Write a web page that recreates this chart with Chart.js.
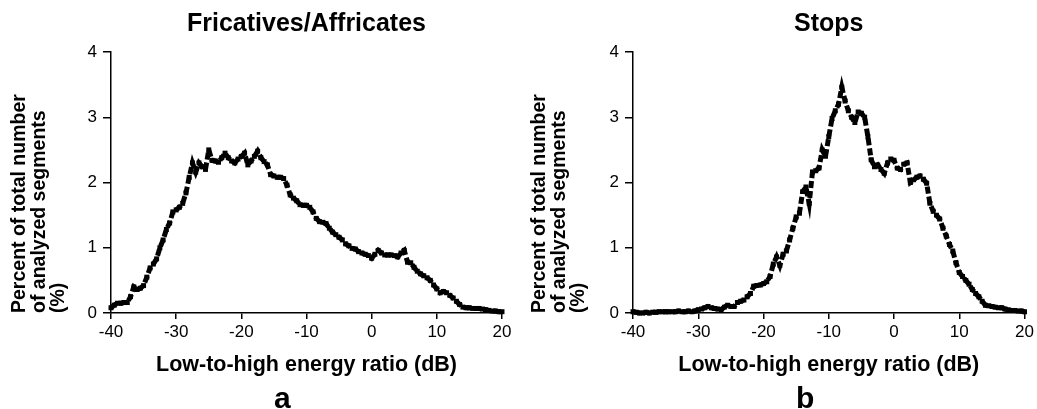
<!DOCTYPE html>
<html>
<head>
<meta charset="utf-8">
<script src="https://cdn.jsdelivr.net/npm/chart.js@4.4.1/dist/chart.umd.min.js"></script>
<style>
  html,body{margin:0;padding:0;background:#fff;}
  body{width:1037px;height:409px;position:relative;overflow:hidden;font-family:"Liberation Sans",Arial,sans-serif;}
  .panel{position:absolute;top:0;height:409px;}
  .letter{position:absolute;top:383px;font:bold 30px "Liberation Sans",Arial,sans-serif;color:#000;line-height:30px;}
</style>
</head>
<body>
<div class="panel" style="left:0;width:520px"><canvas id="cFric"></canvas></div>
<div class="panel" style="left:520px;width:517px"><canvas id="cStops"></canvas></div>
<div class="letter" id="lA" style="left:274px">a</div>
<div class="letter" id="lB" style="left:796px">b</div>
<script>
// bin centres, dB (0.5 dB steps from -40 to 20)
const BINS = Array.from({length:121},(_,i)=>-40+i*0.5);
const X_TICKS = [-40,-30,-20,-10,0,10,20];
const Y_TICKS = [0,1,2,3,4];

// percent of analyzed segments
const FRIC = [
  0.08,0.12,0.15,0.15,0.16,0.16,0.25,0.40,0.36,0.38,
  0.42,0.55,0.69,0.75,0.83,1.00,1.12,1.28,1.38,1.55,
  1.58,1.62,1.68,1.84,2.08,2.30,2.16,2.30,2.24,2.20,
  2.50,2.34,2.33,2.31,2.38,2.45,2.38,2.33,2.30,2.36,
  2.40,2.45,2.27,2.33,2.40,2.48,2.38,2.32,2.27,2.12,
  2.10,2.08,2.08,2.06,1.96,1.81,1.76,1.72,1.66,1.65,
  1.65,1.62,1.55,1.45,1.40,1.39,1.37,1.30,1.24,1.20,
  1.16,1.12,1.06,1.03,0.99,0.98,0.94,0.92,0.90,0.88,
  0.84,0.90,0.96,0.92,0.89,0.89,0.89,0.88,0.86,0.92,
  0.96,0.78,0.77,0.70,0.64,0.60,0.57,0.54,0.50,0.43,
  0.37,0.31,0.33,0.31,0.27,0.23,0.18,0.13,0.09,0.08,
  0.08,0.07,0.07,0.07,0.06,0.05,0.04,0.03,0.03,0.02,
  0.02
];
const STOPS = [
  0.02,0.01,0.00,0.00,0.01,0.00,0.01,0.01,0.02,0.02,
  0.02,0.02,0.02,0.02,0.03,0.02,0.02,0.03,0.02,0.03,
  0.05,0.06,0.08,0.10,0.08,0.07,0.06,0.05,0.09,0.12,
  0.10,0.10,0.16,0.18,0.20,0.25,0.30,0.41,0.42,0.43,
  0.45,0.48,0.56,0.75,0.86,0.73,0.90,0.95,1.12,1.30,
  1.47,1.53,1.86,1.93,1.68,2.16,2.18,2.22,2.50,2.40,
  2.70,2.98,3.10,3.20,3.46,3.25,3.10,3.00,2.92,3.08,
  3.06,3.00,2.70,2.35,2.24,2.27,2.20,2.14,2.30,2.36,
  2.34,2.22,2.20,2.28,2.30,2.00,2.04,2.08,2.10,2.05,
  1.99,1.68,1.56,1.50,1.44,1.30,1.18,1.05,0.95,0.77,
  0.62,0.56,0.50,0.44,0.36,0.30,0.25,0.18,0.12,0.11,
  0.10,0.09,0.08,0.08,0.06,0.05,0.04,0.04,0.03,0.03,
  0.02
];

const FONT = '"Liberation Sans", Arial, sans-serif';
const INK = '#000';

function makeChart(id, title, values, yAxisW, padRight){
  const cv = document.getElementById(id);
  cv.parentNode.style.height = '409px';
  return new Chart(cv, {
    type:'scatter',
    data:{datasets:[{
      data: BINS.map((x,i)=>({x, y:values[i]})),
      showLine:true, borderColor:INK, borderWidth:5, borderDash:[7,3],
      pointStyle:'rect', pointRadius:3.5, pointBackgroundColor:INK, pointBorderWidth:0,
      clip:6
    }]},
    options:{
      responsive:true, maintainAspectRatio:false, animation:false,
      layout:{padding:{left:0,right:padRight,top:0,bottom:30}},
      plugins:{
        legend:{display:false}, tooltip:{enabled:false},
        title:{display:true, text:title, fullSize:false, color:INK,
          font:{family:FONT, size:25, weight:'bold', lineHeight:1.2}, padding:{top:9,bottom:13}}
      },
      scales:{
        x:{type:'linear', min:-40, max:20,
          afterBuildTicks:s=>{s.ticks=X_TICKS.map(v=>({value:v}));},
          afterFit:s=>{s.height=66;},
          grid:{drawOnChartArea:false, drawTicks:true, tickLength:6, color:INK, lineWidth:1.5},
          border:{display:true, color:INK, width:1.5},
          ticks:{color:INK, padding:3, maxRotation:0, font:{family:FONT, size:17}},
          title:{display:true, text:'Low-to-high energy ratio (dB)', color:INK,
            font:{family:FONT, size:21.5, weight:'bold', lineHeight:1.2}, padding:{top:0,bottom:1}}
        },
        y:{min:0, max:4,
          afterBuildTicks:s=>{s.ticks=Y_TICKS.map(v=>({value:v}));},
          afterFit:s=>{s.width=yAxisW;},
          grid:{drawOnChartArea:false, drawTicks:true, tickLength:8, color:INK, lineWidth:1.5},
          border:{display:true, color:INK, width:1.5},
          ticks:{color:INK, padding:6, font:{family:FONT, size:17}},
          title:{display:true, align:'start', text:['Percent of total number','of analyzed segments','(%)'], color:INK,
            font:{family:FONT, size:19.5, weight:'bold', lineHeight:1.0}, padding:{top:10,bottom:0}}
        }
      }
    }
  });
}

makeChart('cFric', 'Fricatives/Affricates', FRIC, 111, 18);
makeChart('cStops', 'Stops', STOPS, 113, 11);
</script>
</body>
</html>
